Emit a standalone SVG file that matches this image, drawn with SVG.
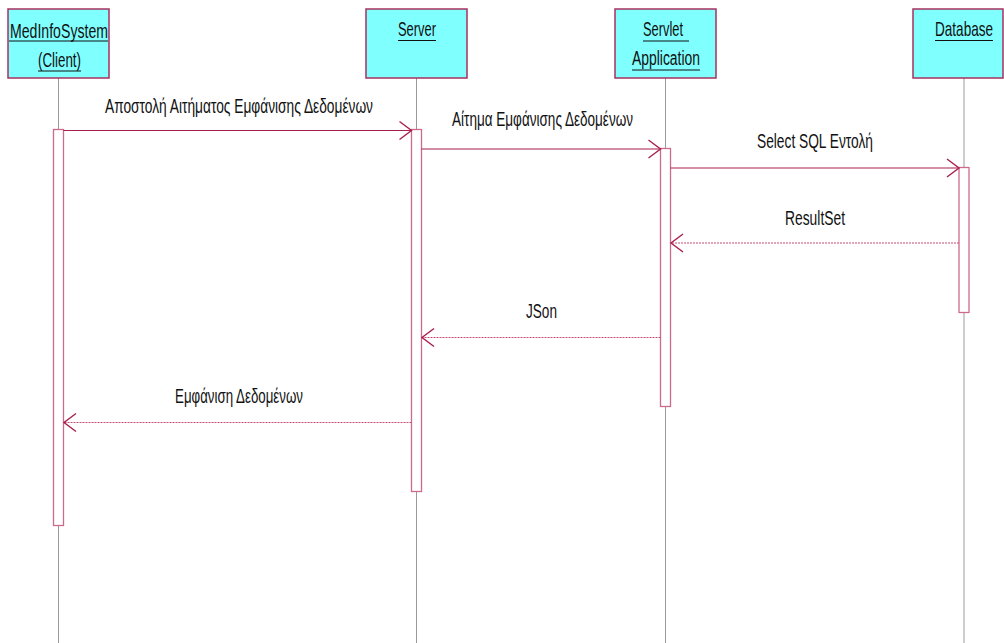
<svg xmlns="http://www.w3.org/2000/svg" width="1004" height="643" viewBox="0 0 1004 643">
  <defs>
    <style>
      .head { fill: #80ffff; stroke: #a8305e; stroke-width: 1.5; }
      .life { stroke: #9a9a9a; stroke-width: 1; }
      .act { fill: #ffffff; stroke: #cc6a8e; stroke-width: 1.3; }
      .ul { stroke: #111; stroke-width: 1; }
      .lbl { font-family: "Liberation Sans", Arial, sans-serif; font-size: 20px; fill: #111; }
      .msg { stroke: #a81f4e; stroke-width: 1.2; fill: none; }
      .ret { stroke: #c24a78; stroke-width: 1.2; fill: none; stroke-dasharray: 2 1; }
      .head-arrow { stroke: #a81f4e; stroke-width: 1.4; fill: none; }
    </style>
  </defs>
  <rect width="1004" height="643" fill="#ffffff"/>

  <!-- lifelines -->
  <g id="lifelines">
    <line class="life" x1="58.5" y1="78" x2="58.5" y2="643"/>
    <line class="life" x1="416.5" y1="78" x2="416.5" y2="643"/>
    <line class="life" x1="665.5" y1="78" x2="665.5" y2="643"/>
    <line class="life" x1="964" y1="78" x2="964" y2="643"/>
  </g>

  <g id="client">
    <rect class="head" x="8" y="9" width="101" height="69"/>
    <text class="lbl" x="10" y="37.5" textLength="98" lengthAdjust="spacingAndGlyphs">MedInfoSystem</text>
    <line class="ul" x1="9" y1="41" x2="108" y2="41"/>
    <text class="lbl" x="38" y="67" textLength="43" lengthAdjust="spacingAndGlyphs">(Client)</text>
    <line class="ul" x1="38" y1="71" x2="81" y2="71"/>
    <rect class="act" x="53.5" y="129.5" width="10" height="396"/>
  </g>

  <g id="server">
    <rect class="head" x="366" y="9" width="101" height="69"/>
    <text class="lbl" x="398" y="36" textLength="38" lengthAdjust="spacingAndGlyphs">Server</text>
    <line class="ul" x1="398" y1="40.5" x2="436" y2="40.5"/>
    <rect class="act" x="411.5" y="129.5" width="10" height="362"/>
  </g>

  <g id="servlet">
    <rect class="head" x="615" y="9" width="101" height="69"/>
    <text class="lbl" x="643" y="35.5" textLength="40" lengthAdjust="spacingAndGlyphs">Servlet</text>
    <line class="ul" x1="643" y1="41" x2="689" y2="41"/>
    <text class="lbl" x="632" y="65" textLength="68" lengthAdjust="spacingAndGlyphs">Application</text>
    <line class="ul" x1="632" y1="70" x2="700" y2="70"/>
    <rect class="act" x="660.5" y="148.5" width="10" height="258"/>
  </g>

  <g id="database">
    <rect class="head" x="913" y="9" width="90" height="69"/>
    <!-- narrow label: condensed with a horizontal scale so it stays inside the page -->
    <text class="lbl" transform="translate(935 36) scale(0.678 1)" x="0" y="0">Database</text>
    <line class="ul" x1="935" y1="40.5" x2="993" y2="40.5"/>
    <rect class="act" x="959" y="167.5" width="10" height="145"/>
  </g>

  <!-- messages -->
  <g id="connectors">
    <line class="msg" x1="63.5" y1="130.5" x2="411.5" y2="130.5"/>
    <polyline class="head-arrow" points="399.5,121.5 411.5,130.5 399.5,139.5"/>
    <text class="lbl" x="105" y="112.5" textLength="268" lengthAdjust="spacingAndGlyphs">Αποστολή Αιτήματος Εμφάνισης Δεδομένων</text>

    <line class="msg" x1="421.5" y1="149" x2="660.5" y2="149"/>
    <polyline class="head-arrow" points="648.5,140 660.5,149 648.5,158"/>
    <text class="lbl" x="452" y="126" textLength="181" lengthAdjust="spacingAndGlyphs">Αίτημα Εμφάνισης Δεδομένων</text>

    <line class="msg" x1="670.5" y1="168" x2="959" y2="168"/>
    <polyline class="head-arrow" points="947,159 959,168 947,177"/>
    <text class="lbl" x="757" y="147.5" textLength="116" lengthAdjust="spacingAndGlyphs">Select SQL Εντολή</text>

    <line class="ret" x1="959" y1="243" x2="671" y2="243"/>
    <polyline class="head-arrow" points="683,234 671,243 683,252"/>
    <text class="lbl" x="785" y="225" textLength="60" lengthAdjust="spacingAndGlyphs">ResultSet</text>

    <line class="ret" x1="660.5" y1="337.5" x2="422" y2="337.5"/>
    <polyline class="head-arrow" points="434,328.5 422,337.5 434,346.5"/>
    <text class="lbl" x="526" y="318" textLength="31" lengthAdjust="spacingAndGlyphs">JSon</text>

    <line class="ret" x1="411.5" y1="422.5" x2="64" y2="422.5"/>
    <polyline class="head-arrow" points="76,413.5 64,422.5 76,431.5"/>
    <text class="lbl" x="175" y="403" textLength="128" lengthAdjust="spacingAndGlyphs">Εμφάνιση Δεδομένων</text>
  </g>
</svg>
